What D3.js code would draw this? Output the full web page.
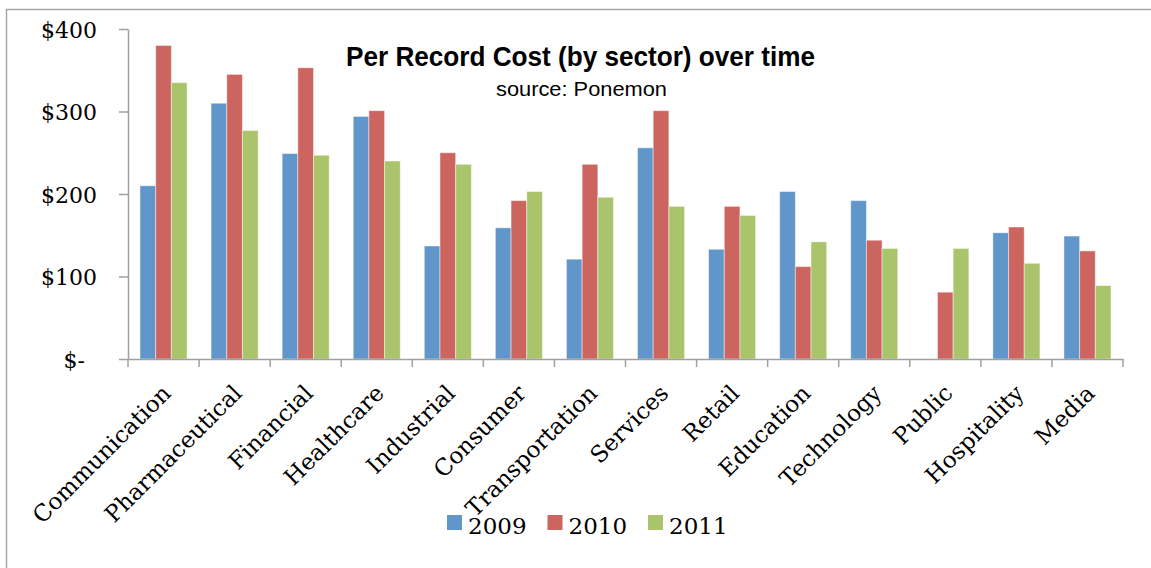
<!DOCTYPE html>
<html>
<head>
<meta charset="utf-8">
<script src="https://cdn.jsdelivr.net/npm/d3@7"></script>
<style>
  html, body { margin: 0; padding: 0; background: #fff; }
  svg { display: block; }
</style>
</head>
<body>
<svg id="chart" width="1151" height="568"></svg>
<script>
const categories = ["Communication","Pharmaceutical","Financial","Healthcare","Industrial","Consumer","Transportation","Services","Retail","Education","Technology","Public","Hospitality","Media"];
const seriesNames = ["2009","2010","2011"];
const values2009 = [210, 310, 249, 294, 137, 159, 121, 256, 133, 203, 192, null, 153, 149];
const values2010 = [380, 345, 353, 301, 250, 192, 236, 301, 185, 112, 144, 81, 160, 131];
const values2011 = [335, 277, 247, 240, 236, 203, 196, 185, 174, 142, 134, 134, 116, 89];
const yTicks = [0, 100, 200, 300, 400];
const colors = ["#6096C9", "#CC6560", "#AAC46B"];

const series = [values2009, values2010, values2011];
const svg = d3.select("#chart");

// outer frame
svg.append("rect").attr("x", 6.5).attr("y", 9.5).attr("width", 1200).attr("height", 600)
  .attr("fill", "none").attr("stroke", "#A6A6A6").attr("stroke-width", 1.5);

const y = d3.scaleLinear().domain([0, 400]).range([359, 29]);
const x0 = d3.scaleBand().domain(categories).range([128, 1123]).paddingInner(0.338).paddingOuter(0.169);
const x1 = d3.scaleBand().domain(seriesNames).range([0, x0.bandwidth()]);

// bars
const groups = svg.append("g").selectAll("g").data(categories).join("g")
  .attr("transform", d => `translate(${x0(d)},0)`);
groups.selectAll("rect")
  .data((c, i) => seriesNames.map((s, j) => ({ s, j, v: series[j][i] })).filter(d => d.v !== null))
  .join("rect")
  .attr("x", d => x1(d.s))
  .attr("y", d => y(d.v))
  .attr("width", x1.bandwidth())
  .attr("height", d => y(0) - y(d.v))
  .attr("fill", d => colors[d.j])
  .attr("stroke", "rgba(255,255,255,0.45)")
  .attr("stroke-width", 1);

// y axis
const yAxis = svg.append("g").attr("transform", "translate(128,0)")
  .call(d3.axisLeft(y).tickValues(yTicks).tickSize(9).tickSizeOuter(0).tickPadding(22)
    .tickFormat(d => d === 0 ? "$-" : "$" + d));
yAxis.select(".domain").attr("stroke", "#A0A0A0").attr("stroke-width", 1.5);
yAxis.selectAll(".tick line").attr("stroke", "#A0A0A0").attr("stroke-width", 1.5);
yAxis.selectAll(".tick text")
  .attr("font-family", "DejaVu Serif").attr("font-size", 22).attr("fill", "#000")
  .attr("dy", "0.38em")
  .attr("x", d => d === 0 ? -43 : -31);

// x axis
const step = x0.step();
const gap = step - x0.bandwidth();
const xAxis = svg.append("g").attr("transform", "translate(0,359)")
  .call(d3.axisBottom(x0).tickSize(0).tickSizeOuter(0).tickFormat(""));
xAxis.select(".domain").attr("stroke", "#A0A0A0").attr("stroke-width", 1.5);
xAxis.selectAll(".tick line").remove();
const bounds = categories.map(c => x0(c) - gap / 2).concat([x0(categories[categories.length - 1]) + x0.bandwidth() + gap / 2]);
xAxis.selectAll("line.bound").data(bounds).join("line").attr("class", "bound")
  .attr("x1", d => d).attr("x2", d => d).attr("y1", 0).attr("y2", 8)
  .attr("stroke", "#A0A0A0").attr("stroke-width", 1.5);
xAxis.selectAll("text.lab").data(categories).join("text").attr("class", "lab")
  .attr("transform", d => `translate(${x0(d) + x0.bandwidth() / 2 - 3},24) rotate(-45)`)
  .attr("text-anchor", "end")
  .attr("dy", "0.72em")
  .attr("font-family", "DejaVu Serif").attr("font-size", 23).attr("fill", "#000")
  .text(d => d);

// title
svg.append("text").attr("x", 580.5).attr("y", 66).attr("text-anchor", "middle")
  .attr("font-family", "Liberation Sans").attr("font-weight", "bold").attr("font-size", 28)
  .attr("textLength", 469).attr("lengthAdjust", "spacingAndGlyphs")
  .text("Per Record Cost (by sector) over time");
svg.append("text").attr("x", 581.5).attr("y", 96).attr("text-anchor", "middle")
  .attr("font-family", "Liberation Sans").attr("font-size", 20)
  .attr("textLength", 171).attr("lengthAdjust", "spacingAndGlyphs")
  .text("source: Ponemon");

// legend
const legend = svg.append("g").selectAll("g").data(seriesNames).join("g")
  .attr("transform", (d, i) => `translate(${447 + i * 100.5},0)`);
legend.append("rect").attr("x", 0).attr("y", 515).attr("width", 15).attr("height", 15)
  .attr("fill", (d, i) => colors[i]);
legend.append("text").attr("x", 21).attr("y", 534)
  .attr("font-family", "DejaVu Serif").attr("font-size", 23).attr("fill", "#000")
  .text(d => d);
</script>
</body>
</html>
